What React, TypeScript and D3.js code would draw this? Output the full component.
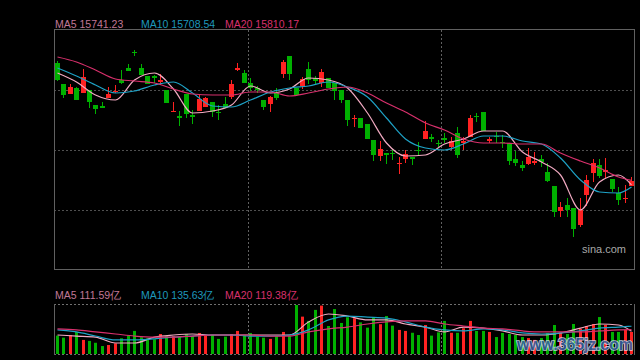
import * as d3 from 'd3'

// daily index candles (price units), left to right
const openP = [17570, 17255, 17105, 17195, 17120, 17165, 16940, 16925, 17045, 17135,
  17315, 17495, 17735, 17495, 17375, 17375, 17285, 17165, 16835, 16775,
  17105, 16790, 16850, 16910, 16985, 16835, 16955, 17060, 17465, 17420,
  17270, 17195, 17015, 16955, 17120, 17405, 17675, 17195, 17225, 17480,
  17345, 17270, 17345, 17270, 17165, 17015, 16730, 16745, 16655, 16415,
  16175, 16220, 16220, 16055, 16130, 16160, 16265, 16430, 16460, 16370,
  16445, 16310, 16520, 16370, 16460, 16775, 16835, 16400, 16475, 16385,
  16370, 16130, 16040, 16055, 16070, 16130, 15935, 15725, 15350, 15440,
  15395, 15140, 15590, 15920, 16040, 15935, 15830, 15620, 15530, 15725]
const highP = [17600, 17255, 17255, 17210, 17480, 17165, 16940, 16985, 17210, 17240,
  17465, 17555, 17765, 17555, 17375, 17390, 17405, 17165, 16985, 16850,
  17105, 16865, 17090, 17060, 16985, 16940, 17060, 17315, 17570, 17465,
  17345, 17225, 17015, 17075, 17195, 17615, 17675, 17195, 17360, 17585,
  17375, 17480, 17345, 17270, 17165, 17015, 16790, 16745, 16655, 16415,
  16400, 16220, 16280, 16160, 16265, 16160, 16385, 16700, 16505, 16415,
  16520, 16460, 16610, 16460, 16790, 16820, 16835, 16460, 16535, 16490,
  16370, 16250, 16100, 16295, 16235, 16190, 16070, 15725, 15485, 15545,
  15395, 15545, 15890, 16130, 16130, 16145, 15830, 15710, 15740, 15860]
const lowP = [17300, 17045, 17105, 17015, 17120, 16895, 16805, 16895, 17045, 17120,
  17255, 17450, 17675, 17390, 17255, 17270, 17240, 16970, 16835, 16625,
  16745, 16655, 16850, 16910, 16760, 16715, 16895, 17030, 17450, 17270,
  17150, 17120, 16865, 16835, 17015, 17345, 17315, 17090, 17180, 17255,
  17240, 17210, 17195, 17015, 16970, 16625, 16610, 16595, 16430, 16100,
  16100, 16055, 16115, 15905, 16070, 16040, 16190, 16430, 16385, 16310,
  16370, 16265, 16145, 16265, 16460, 16685, 16550, 16370, 16370, 16295,
  16040, 16025, 15950, 16040, 16040, 16010, 15785, 15260, 15260, 15260,
  14960, 15110, 15425, 15785, 15845, 15845, 15635, 15440, 15470, 15725]
const closeP = [17315, 17090, 17210, 17015, 17360, 16985, 16880, 16895, 17105, 17150,
  17270, 17450, 17720, 17390, 17255, 17345, 17315, 16970, 16850, 16745,
  16805, 16760, 17030, 17045, 16835, 16820, 16895, 17255, 17495, 17270,
  17195, 17165, 16910, 17060, 17045, 17585, 17405, 17090, 17330, 17315,
  17300, 17435, 17195, 17150, 17015, 16715, 16745, 16595, 16430, 16190,
  16280, 16190, 16205, 16070, 16205, 16130, 16250, 16550, 16430, 16355,
  16415, 16400, 16190, 16400, 16745, 16760, 16550, 16430, 16460, 16370,
  16100, 16070, 15995, 16160, 16100, 16085, 15800, 15335, 15410, 15365,
  15080, 15365, 15815, 16070, 15875, 15965, 15680, 15515, 15545, 15800]

// turnover, 亿
const volume = [90, 80, 93, 108, 69, 64, 55, 39, 44, 52,
  77, 90, 113, 82, 77, 72, 98, 88, 88, 85,
  98, 88, 103, 93, 93, 74, 85, 98, 113, 90,
  103, 85, 80, 74, 88, 108, 88, 240, 183, 162,
  216, 237, 137, 220, 152, 180, 175, 155, 129, 180,
  146, 186, 139, 118, 113, 104, 93, 142, 90, 106,
  162, 104, 104, 126, 162, 113, 113, 108, 83, 103,
  98, 93, 83, 78, 69, 78, 103, 142, 103, 98,
  147, 123, 137, 147, 181, 142, 108, 108, 118, 108]

// moving averages read at these candle indices
const maIdx = [0, 3, 6, 9, 12, 15, 18, 21, 24, 27, 30, 33, 36, 39, 42, 45, 48, 51, 54, 57, 60, 63, 66, 69, 72, 75, 78, 81, 84, 87, 89]
const ma5 = [17420, 17285, 17090, 17015, 17315, 17420, 17180, 16820, 16850, 16940, 17225, 17120, 17180, 17345, 17315, 17195, 16820, 16370, 16175, 16190, 16355, 16430, 16550, 16550, 16235, 16085, 15890, 15365, 15785, 15890, 15741]
const ma10 = [17495, 17375, 17240, 17120, 17150, 17240, 17285, 17120, 16925, 16910, 17015, 17135, 17195, 17225, 17285, 17210, 17060, 16745, 16430, 16295, 16265, 16355, 16475, 16475, 16400, 16355, 16145, 15815, 15635, 15620, 15709]
const ma20 = [17660, 17585, 17465, 17330, 17300, 17270, 17180, 17105, 17090, 17090, 17135, 17135, 17075, 17120, 17180, 17210, 17120, 16970, 16835, 16670, 16565, 16430, 16370, 16370, 16355, 16355, 16220, 16100, 15995, 15860, 15810]
const volMa5 = [93, 88, 83, 54, 54, 83, 93, 98, 93, 93, 93, 93, 93, 157, 196, 186, 167, 167, 147, 132, 108, 132, 127, 113, 93, 93, 103, 127, 147, 142, 112]
const volMa10 = [118, 108, 88, 69, 69, 74, 83, 88, 93, 93, 88, 88, 93, 118, 167, 186, 181, 176, 157, 132, 118, 113, 123, 118, 103, 98, 103, 113, 127, 132, 136]
const volMa20 = [123, 118, 108, 98, 88, 83, 83, 88, 93, 93, 93, 88, 88, 108, 123, 132, 147, 157, 162, 162, 147, 137, 127, 123, 113, 108, 108, 108, 113, 118, 119]

const priceLegend = ['MA5 15741.23', 'MA10 15708.54', 'MA20 15810.17']
const volLegend = ['MA5 111.59亿', 'MA10 135.63亿', 'MA20 119.38亿']
const gridPrices = [17165, 16265, 15365]
const monthBreaks = [30, 60]

const RED = '#ff2222'
const GREEN = '#00b000'
const LINE_COLORS = ['#f2aac2', '#1ea2c6', '#d8306c']
const LABEL_COLORS = ['#c07896', '#1e98bc', '#d8306c']
const FONT = 'Arial, "Liberation Sans", sans-serif'

export default function App() {
  const left = 54
  const right = 635
  const x = d3.scaleBand<number>().domain(d3.range(openP.length)).range([left, right])
  const cx = (i: number) => Math.floor((x(i) ?? 0) + x.bandwidth() / 2) + 0.5

  const y = d3.scaleLinear().domain([14480, 18080]).range([269, 29])
  const vy = d3.scaleLinear().domain([0, 240]).range([354, 305])

  const maLine = (scale: d3.ScaleLinear<number, number>, vals: number[]) =>
    d3
      .line<number>()
      .x((_, k) => cx(maIdx[k]))
      .y((v) => scale(v))
      .curve(d3.curveMonotoneX)(vals) ?? ''

  const legendX = [55, 141, 225]

  return (
    <svg
      width={640}
      height={360}
      style={{ position: 'absolute', left: 0, top: 0, background: '#000', display: 'block' }}
      fontFamily={FONT}
    >
      <rect x={0} y={0} width={640} height={360} fill="#000" />

      {/* price panel */}
      {priceLegend.map((t, k) => (
        <text key={t} x={legendX[k]} y={28} fontSize={10.5} fill={LABEL_COLORS[k]}>{t}</text>
      ))}
      {gridPrices.map((p) => (
        <line key={p} x1={left} x2={634} y1={Math.round(y(p)) + 0.5} y2={Math.round(y(p)) + 0.5}
          stroke="#505050" strokeDasharray="2,2" />
      ))}
      {monthBreaks.map((i) => (
        <line key={i} x1={Math.round(x(i) ?? 0) + 0.5} x2={Math.round(x(i) ?? 0) + 0.5} y1={30} y2={269}
          stroke="#606060" strokeDasharray="2,2" />
      ))}
      <rect x={54.5} y={29.5} width={580} height={240} fill="none" stroke="#606060" />
      <text x={582} y={253} fontSize={11} fill="#a8a8a8">sina.com</text>

      <g>
        {openP.map((o, i) => {
          const c = closeP[i]
          const col = c >= o ? RED : GREEN
          const top = Math.round(y(Math.max(o, c)))
          const h = Math.max(1, Math.round(y(Math.min(o, c))) - top)
          return (
            <g key={i}>
              <line x1={cx(i)} x2={cx(i)} y1={Math.round(y(highP[i]))} y2={Math.round(y(lowP[i]))} stroke={col} />
              <rect x={cx(i) - 2.5} y={top} width={5} height={h} fill={col} />
            </g>
          )
        })}
      </g>
      {[ma5, ma10, ma20].map((vals, k) => (
        <path key={k} d={maLine(y, vals)} fill="none" stroke={LINE_COLORS[k]} strokeWidth={1.2} />
      ))}

      {/* volume panel */}
      {volLegend.map((t, k) => (
        <text key={t} x={legendX[k]} y={299} fontSize={10.5} fill={LABEL_COLORS[k]}>{t}</text>
      ))}
      <g>
        {volume.map((v, i) => (
          <rect key={i} x={cx(i) - 1.5} y={vy(v)} width={3} height={vy(0) - vy(v)}
            fill={closeP[i] >= openP[i] ? RED : GREEN} />
        ))}
      </g>
      {[volMa5, volMa10, volMa20].map((vals, k) => (
        <path key={k} d={maLine(vy, vals)} fill="none" stroke={LINE_COLORS[k]} strokeWidth={1.2} />
      ))}
      <line x1={54} x2={634} y1={304.5} y2={304.5} stroke="#707070" strokeDasharray="2,2" />
      <line x1={54} x2={634} y1={354.5} y2={354.5} stroke="#707070" strokeDasharray="2,2" />
      <line x1={54.5} x2={54.5} y1={304} y2={355} stroke="#606060" />
      <line x1={634.5} x2={634.5} y1={304} y2={355} stroke="#606060" />
      {monthBreaks.map((i) => (
        <line key={i} x1={Math.round(x(i) ?? 0) + 0.5} x2={Math.round(x(i) ?? 0) + 0.5} y1={305} y2={354}
          stroke="#707070" strokeDasharray="2,2" />
      ))}

      <text x={517} y={350} fontSize={16} fontWeight="bold" fontFamily='"Liberation Sans", Arial, sans-serif'
        textLength={116} fill="#3564a4" stroke="#d8e0f0" strokeWidth={1.6} paintOrder="stroke" opacity={0.85}>
        www.365jz.com
      </text>
    </svg>
  )
}
